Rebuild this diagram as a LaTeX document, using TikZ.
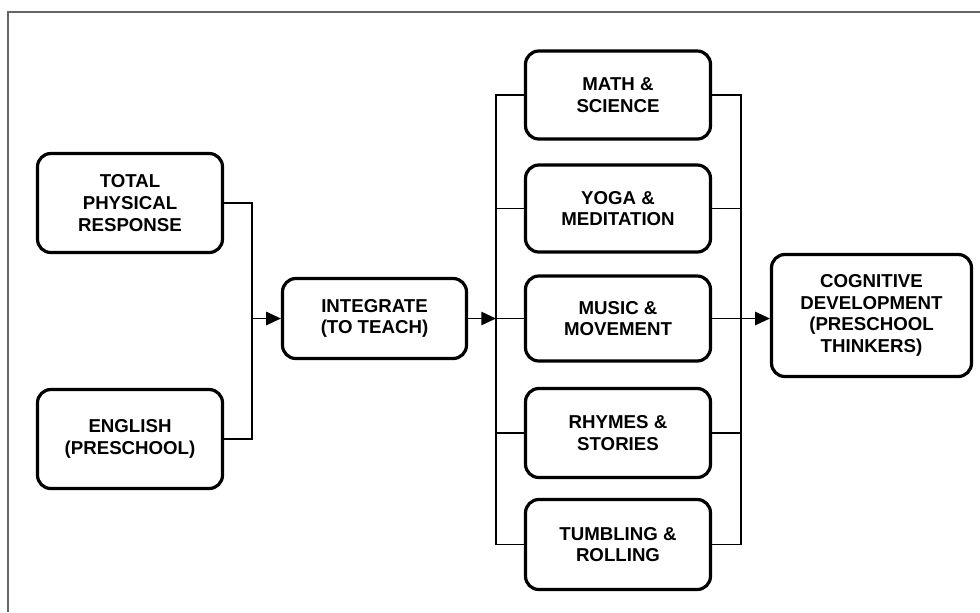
\documentclass[tikz,border=0pt]{standalone}
\usepackage{fontspec}
\setmainfont{Liberation Sans}
\usetikzlibrary{arrows.meta}
\tikzset{
  box/.style={draw=black, line width=2.4pt, rounded corners=10pt, fill=white,
    align=center, inner sep=0pt, font=\bfseries\fontsize{14}{16.3}\selectfont},
  conn/.style={draw=black, line width=1.1pt},
  arr/.style={conn, -{Triangle[length=11pt,width=10pt]}},
  frame/.style={draw=black!60, line width=1.3pt}
}
\begin{document}
\begin{tikzpicture}[x=0.75pt,y=-0.75pt]
\useasboundingbox (0,0) rectangle (980,612);
\coordinate (f1) at (8,612);
\coordinate (f2) at (8,12);
\coordinate (f3) at (980,12);
\draw[frame] (f1) -- (f2) -- (f3);

\node[box, minimum width=185*0.75pt, minimum height=99*0.75pt] (tpr) at (130,203) {TOTAL\\PHYSICAL\\RESPONSE};
\node[box, minimum width=185*0.75pt, minimum height=99*0.75pt] (eng) at (130,439) {ENGLISH\\(PRESCHOOL)};
\node[box, minimum width=184*0.75pt, minimum height=80*0.75pt] (int) at (374.5,318.5) {INTEGRATE\\(TO TEACH)};

\node[box, minimum width=185*0.75pt, minimum height=88*0.75pt] (math) at (618,95) {MATH \&\\SCIENCE};
\node[box, minimum width=185*0.75pt, minimum height=87*0.75pt] (yoga) at (618,208.5) {YOGA \&\\MEDITATION};
\node[box, minimum width=185*0.75pt, minimum height=85*0.75pt] (music) at (618,318.5) {MUSIC \&\\MOVEMENT};
\node[box, minimum width=185*0.75pt, minimum height=89*0.75pt] (rhym) at (618,433) {RHYMES \&\\STORIES};
\node[box, minimum width=185*0.75pt, minimum height=90*0.75pt] (tumb) at (618,544.5) {TUMBLING \&\\ROLLING};

\node[box, minimum width=200*0.75pt, minimum height=122*0.75pt] (cog) at (871.5,315.5) {COGNITIVE\\DEVELOPMENT\\(PRESCHOOL\\THINKERS)};

\coordinate (lb) at (252,318.5);
\coordinate (bl) at (496,318.5);
\coordinate (br) at (741,318.5);

\draw[conn] (tpr.east) -| (lb) |- (eng.east);
\draw[arr] (lb) -- (int.west);
\draw[arr] (int.east) -- (bl);

\draw[conn] (math.west) -| (bl) |- (tumb.west);
\draw[conn] (yoga.west) -- (yoga.west -| bl);
\draw[conn] (rhym.west) -- (rhym.west -| bl);
\draw[conn] (bl) -- (music.west);

\draw[conn] (math.east) -| (br) |- (tumb.east);
\draw[conn] (yoga.east) -- (yoga.east -| br);
\draw[conn] (rhym.east) -- (rhym.east -| br);
\draw[arr] (music.east) -- (music.east -| cog.west);
\end{tikzpicture}
\end{document}
